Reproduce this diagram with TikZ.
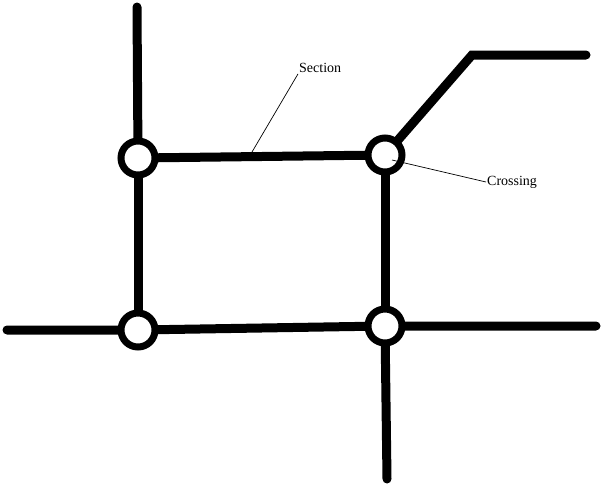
\documentclass[tikz,border=0pt]{standalone}
\usepackage{fontspec}
\setmainfont{Liberation Serif}
\begin{document}
\begin{tikzpicture}[x=1pt,y=-1pt,
  road/.style={line width=9pt,line cap=round},
  cross/.style={circle,draw,fill=white,line width=7pt,minimum size=34pt,inner sep=0pt},
  lbl/.style={font=\fontsize{14}{16}\selectfont,inner sep=1pt},
  lead/.style={line width=0.7pt}]
\useasboundingbox (0,0) rectangle (602,485);
\coordinate (tA) at (137,7);
\coordinate (tB1) at (472,55);
\coordinate (tB2) at (586,55);
\coordinate (lC) at (7,330);
\coordinate (rD) at (596,326);
\coordinate (bD) at (387,479);
\coordinate (A) at (138,158);
\coordinate (B) at (385,155);
\coordinate (C) at (138,330);
\coordinate (D) at (385,326);
\draw[road] (tA) -- (A);
\draw[road] (B) -- (tB1) -- (tB2);
\draw[road] (A) -- (B);
\draw[road] (A) -- (C);
\draw[road] (B) -- (D);
\draw[road] (lC) -- (C) -- (D) -- (rD);
\draw[road] (D) -- (bD);
\foreach \n in {A,B,C,D} \node[cross] (n\n) at (\n) {};
\node[lbl,anchor=west] (sec) at (298,68) {Section};
\node[lbl,anchor=west] (crs) at (486,182) {Crossing};
\coordinate (sp) at (252,152);
\coordinate (cp) at (392,160);
\draw[lead] (sec.south west) -- (sp);
\draw[lead] (crs.west) -- (cp);
\end{tikzpicture}
\end{document}
